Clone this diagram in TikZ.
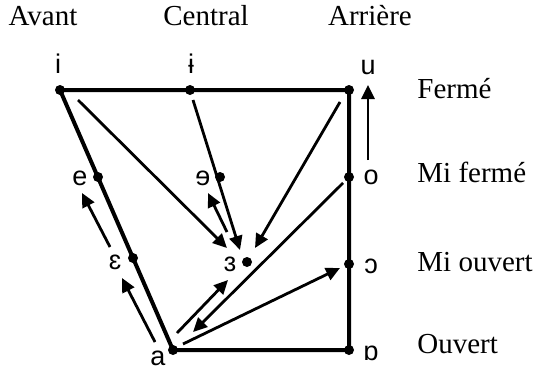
\documentclass[tikz,border=0pt]{standalone}
\usepackage{fontspec}
\setmainfont{Liberation Serif}
\newfontfamily\ipafont{Liberation Sans}
\usetikzlibrary{arrows.meta}

\begin{document}
\begin{tikzpicture}[
  x=0.5pt, y=-0.5pt,
  dot/.style    = {circle, fill=black, inner sep=0pt, minimum size=5pt},
  ipa/.style    = {anchor=base, inner sep=0pt, font=\ipafont\fontsize{13.5}{15}\selectfont},
  head/.style   = {anchor=base, inner sep=0pt, font=\fontsize{14.5}{17}\selectfont},
  level/.style  = {anchor=base west, inner sep=0pt, font=\fontsize{14.5}{17}\selectfont},
  frame/.style  = {line width=2pt, line join=round},
  arr/.style    = {-{Triangle[length=7pt,width=6.5pt]}, line width=1.4pt},
]
\useasboundingbox (0,0) rectangle (539,369);

%% ── Vowel points ─────────────────────────────────────────────────────────
\node[dot] (i)   at (60,90)   {};
\node[dot] (ib)  at (190,90)  {};
\node[dot] (u)   at (349,90)  {};
\node[dot] (e)   at (98,177)  {};
\node[dot] (er)  at (220,177) {};
\node[dot] (o)   at (349,177) {};
\node[dot] (eps) at (133,258) {};
\node[dot] (epr) at (247,262) {};
\node[dot] (oo)  at (349,264) {};
\node[dot] (a)   at (173,350) {};
\node[dot] (ar)  at (349,350) {};

%% ── Vowel labels ─────────────────────────────────────────────────────────
\node[ipa] (li)   at (58,74)   {i};
\node[ipa] (lib)  at (191,74)  {ɨ};
\node[ipa] (lu)   at (368,75)  {u};
\node[ipa] (le)   at (80,185)  {e};
\node[ipa] (ler)  at (203,185) {ɘ};
\node[ipa] (lo)   at (371,184) {o};
\node[ipa] (leps) at (115,269) {ɛ};
\node[ipa] (lepr) at (230,271) {ɜ};
\node[ipa] (loo)  at (371,273) {ɔ};
\node[ipa] (la)   at (158,365) {a};
\node[ipa] (lar)  at (371,360) {ɒ};

%% ── Column and row titles ────────────────────────────────────────────────
\node[head]  (avant)   at (43,26)   {Avant};
\node[head]  (central) at (206,26)  {Central};
\node[head]  (arriere) at (370,26)  {Arrière};
\node[level] (ferme)   at (417,98)  {Fermé};
\node[level] (miferme) at (417,182) {Mi fermé};
\node[level] (miouv)   at (417,271) {Mi ouvert};
\node[level] (ouvert)  at (417,353) {Ouvert};

%% ── Trapezium ────────────────────────────────────────────────────────────
\draw[frame] (i.center) -- (u.center) -- (ar.center) -- (a.center) -- cycle;

%% ── Movements ────────────────────────────────────────────────────────────
\draw[arr] ([shift={(18,10)}]i.center)   -- ([shift={(-20,-14)}]epr.center);
\draw[arr] ([shift={(3,10)}]ib.center)   -- ([shift={(-7,-12)}]epr.center);
\draw[arr] ([shift={(-9,12)}]u.center)   -- ([shift={(8,-14)}]epr.center);
\draw[arr] ([shift={(-20,-30)}]epr.center) -- ([shift={(-12,16)}]er.center);
\draw[arr] ([shift={(4,-17)}]a.center)   -- ([shift={(-19,18)}]epr.center);
\draw[arr] ([shift={(-6,6)}]o.center)    -- ([shift={(20,-18)}]a.center);
\draw[arr] ([shift={(10,-6)}]a.center)   -- ([shift={(-9,4)}]oo.center);
\draw[arr] ([shift={(-23,-11)}]eps.center) -- ([shift={(-16,16)}]e.center);
\draw[arr] ([shift={(-18,-8)}]a.center)  -- ([shift={(-11,20)}]eps.center);
\draw[arr] ([shift={(19,-17)}]o.center)  -- ([shift={(19,-5)}]u.center);

\end{tikzpicture}
\end{document}
